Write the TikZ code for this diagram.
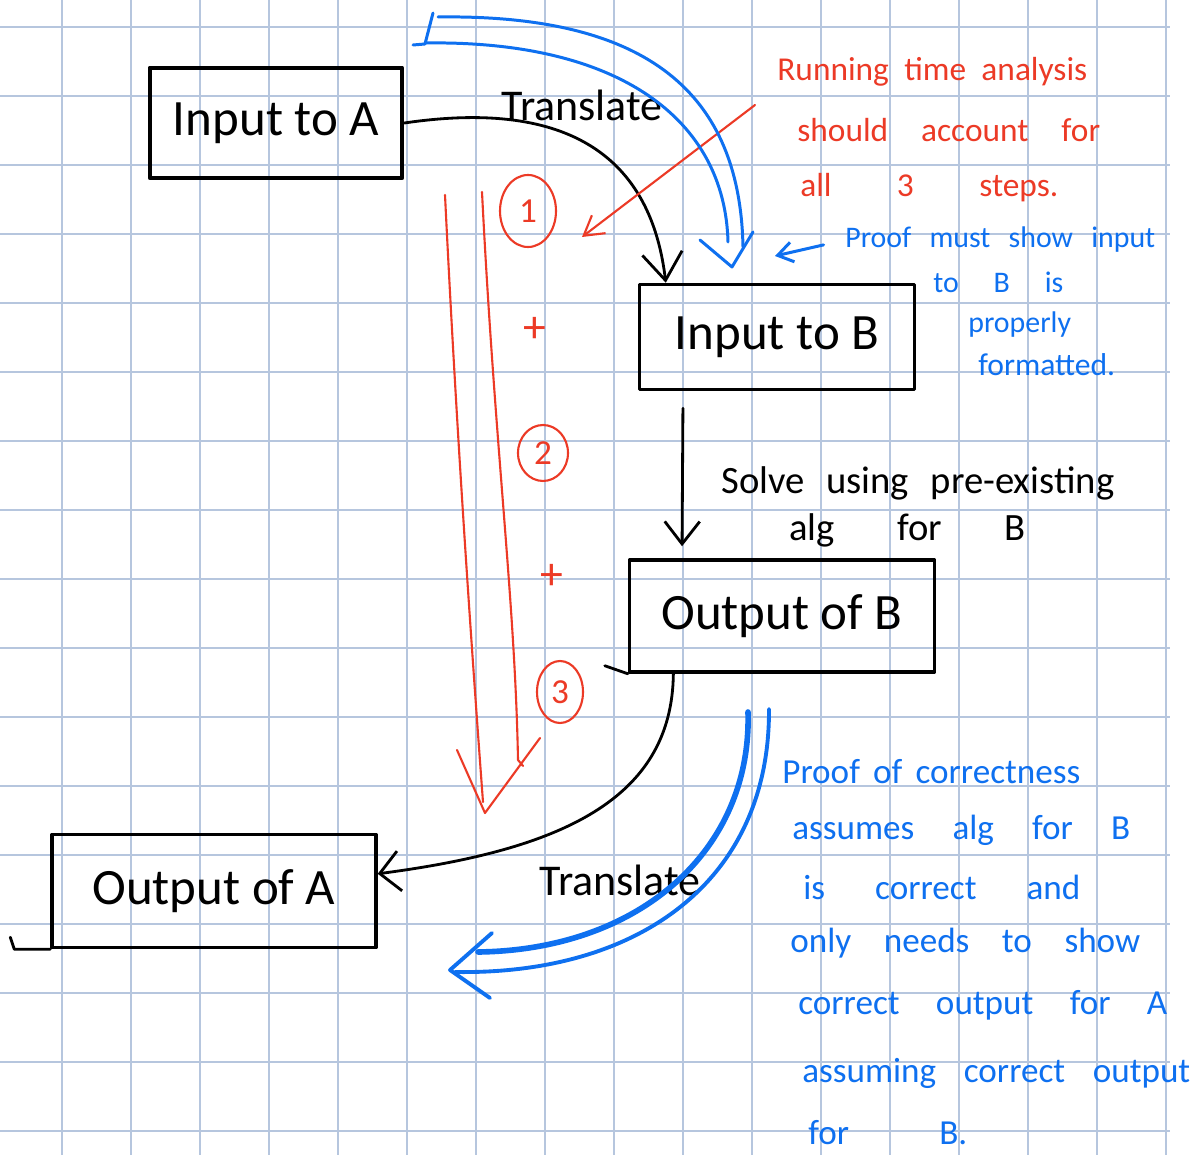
\documentclass[tikz,border=0pt]{standalone}
\usepackage{fontspec}
\setmainfont{Carlito}
\usetikzlibrary{arrows.meta,positioning,shapes.geometric}
\definecolor{gridblue}{RGB}{182,198,222}
\definecolor{penred}{RGB}{236,58,38}
\definecolor{penblue}{RGB}{14,112,240}
\newcommand{\hw}[2]{\makebox[#1][s]{#2}}
\tikzset{
sheet/.style={x=0.02cm,y=-0.02cm,line cap=round,line join=round},
gridline/.style={draw=gridblue,line width=0.8pt,line cap=butt},
box/.style={rectangle,draw,line width=2pt,inner sep=0pt,
    font=\fontsize{29}{34}\selectfont},
ink/.style={draw,line width=1.6pt},
redpen/.style={draw=penred,line width=1.2pt},
bluepen/.style={draw=penblue,line width=1.7pt},
inknote/.style={inner sep=0pt,font=\fontsize{#1}{#1}\selectfont},
inknote/.default={22},
rednote/.style={inner sep=0pt,anchor=west,text=penred,
    font=\fontsize{19}{23}\selectfont},
bluenote/.style={inner sep=0pt,anchor=west,text=penblue,
    font=\fontsize{#1}{#1}\selectfont},
bluenote/.default={20},
stepmark/.style={ellipse,draw=penred,text=penred,line width=1.2pt,
    inner sep=0pt,font=\fontsize{20}{24}\selectfont},
plus/.style={text=penred,inner sep=0pt,font=\fontsize{26}{30}\selectfont},
}

\begin{document}
\begin{tikzpicture}[sheet]

    \useasboundingbox (0,0) rectangle (1201,1155);
    \fill[white] (0,0) rectangle (1201,1155);
    \foreach \x in {62,131,...,1166} \draw[gridline] (\x,0) -- (\x,1155);
    \foreach \y in {27,96,...,1131} \draw[gridline] (0,\y) -- (1170,\y);

    % the four boxes
    \node[box,line width=2.8pt] (ina) [minimum width=5.04cm,minimum height=2.2cm] at (276,123) {Input to A};
    \node[box] (inb) [minimum width=5.5cm,minimum height=2.1cm] at (777,337) {Input to B};
    \node[box] (outb) [minimum width=6.1cm,minimum height=2.24cm] at (782,616) {Output of B};
    \node[box] (outa) [minimum width=6.48cm,minimum height=2.26cm] at (214,891) {Output of A};
    \draw[ink] (outb.south west) -- ++(-23,-8);
    \draw[ink] (outa.south west) -- ++(-36,0) -- ++(-4,-12);

    \draw[ink,-{Straight Barb[length=0.55cm,width=0.8cm]}]
        (ina.east) .. controls (560,100) and (650,150) .. (inb.154);
    \draw[ink,-{Straight Barb[length=0.45cm,width=0.7cm]},shorten <=0.34cm,shorten >=0.24cm]
        (inb.210) -- (outb.150);
    \draw[ink,-{Straight Barb[length=0.4cm,width=0.8cm]}]
        (outb.208) .. controls (672,800) and (560,850) .. (outa.6);

    \node[inknote=25] (tr1) at (582,105) {Translate};
    \node[inknote=25] (tr2) at (620,880) {Translate};
    \node[inknote,anchor=west] (solve) at (721,483) {\hw{7.86cm}{Solve using pre-existing}};
    \node[inknote,anchor=west] (solvealg) at (789,530) {\hw{4.72cm}{alg for B}};

    % red: the three steps
    \draw[redpen] (445,195) .. controls (455,400) and (468,600) .. (483,802);
    \draw[redpen] (482,192) .. controls (495,450) and (515,600) .. (518,760) -- (523,766);
    \draw[redpen] (457,750) -- (485,813) -- (540,738);
    \node[stepmark,minimum width=1.12cm,minimum height=1.44cm] (one) at (528,211) {1};
    \node[stepmark,minimum width=1.0cm,minimum height=1.12cm] (two) at (543,453) {2};
    \node[stepmark,minimum width=0.92cm,minimum height=1.24cm] (three) at (560,692) {3};
    \node[plus] (plusa) at (535,330) {+};
    \node[plus] (plusb) at (552,577) {+};

    \node[rednote] (run1) at (777,72) {\hw{6.2cm}{Running time analysis}};
    \node[rednote] (run2) at (797,130) {\hw{6.06cm}{should account for}};
    \node[rednote] (run3) at (800,188) {\hw{5.16cm}{all 3 steps.}};
    \coordinate (rtail) at (755,105);
    \coordinate (rtip) at (582,237);
    \draw[redpen,-{Straight Barb[length=0.38cm,width=0.45cm]}] (rtail) -- (rtip);

    % blue notes
    \node[bluenote=17] (pf1) at (845,240) {\hw{6.2cm}{Proof must show input}};
    \node[bluenote=17] (pf2) at (933,282) {\hw{2.6cm}{to B is}};
    \node[bluenote=17] (pf3) at (968,325) {properly};
    \node[bluenote=18] (pf4) at (978,365) {formatted.};
    \coordinate (ptip) at (775,256);
    \draw[bluepen,-{Straight Barb[length=0.3cm,width=0.4cm]},shorten <=0.44cm] (pf1.west) -- (ptip);

    \node[bluenote] (cr1) at (782,772) {\hw{5.96cm}{Proof of correctness}};
    \node[bluenote] (cr2) at (792,830) {\hw{6.76cm}{assumes alg for B}};
    \node[bluenote] (cr3) at (803,887) {\hw{5.54cm}{is correct and}};
    \node[bluenote] (cr4) at (790,943) {\hw{7.0cm}{only needs to show}};
    \node[bluenote] (cr5) at (798,1005) {\hw{7.38cm}{correct output for A}};
    \node[bluenote] (cr6) at (802,1073) {\hw{7.76cm}{assuming correct output}};
    \node[bluenote] (cr7) at (808,1133) {\hw{3.18cm}{for B.}};

    % blue hollow arrows
    \draw[bluepen] (413,45) -- (425,44) -- (433,13);
    \draw[bluepen] (438,17) .. controls (650,14) and (740,95) .. (743,247);
    \draw[bluepen] (425,43) .. controls (620,40) and (725,120) .. (728,242);
    \draw[bluepen] (700,240) -- (732,267) -- (753,232);

    \draw[bluepen,line width=3.2pt] (748,712) .. controls (752,850) and (640,950) .. (478,952);
    \draw[bluepen,line width=2.2pt] (769,709) .. controls (770,880) and (640,975) .. (455,972);
    \draw[bluepen,line width=2.2pt] (492,933) -- (450,970) -- (490,998);

\end{tikzpicture}
\end{document}
